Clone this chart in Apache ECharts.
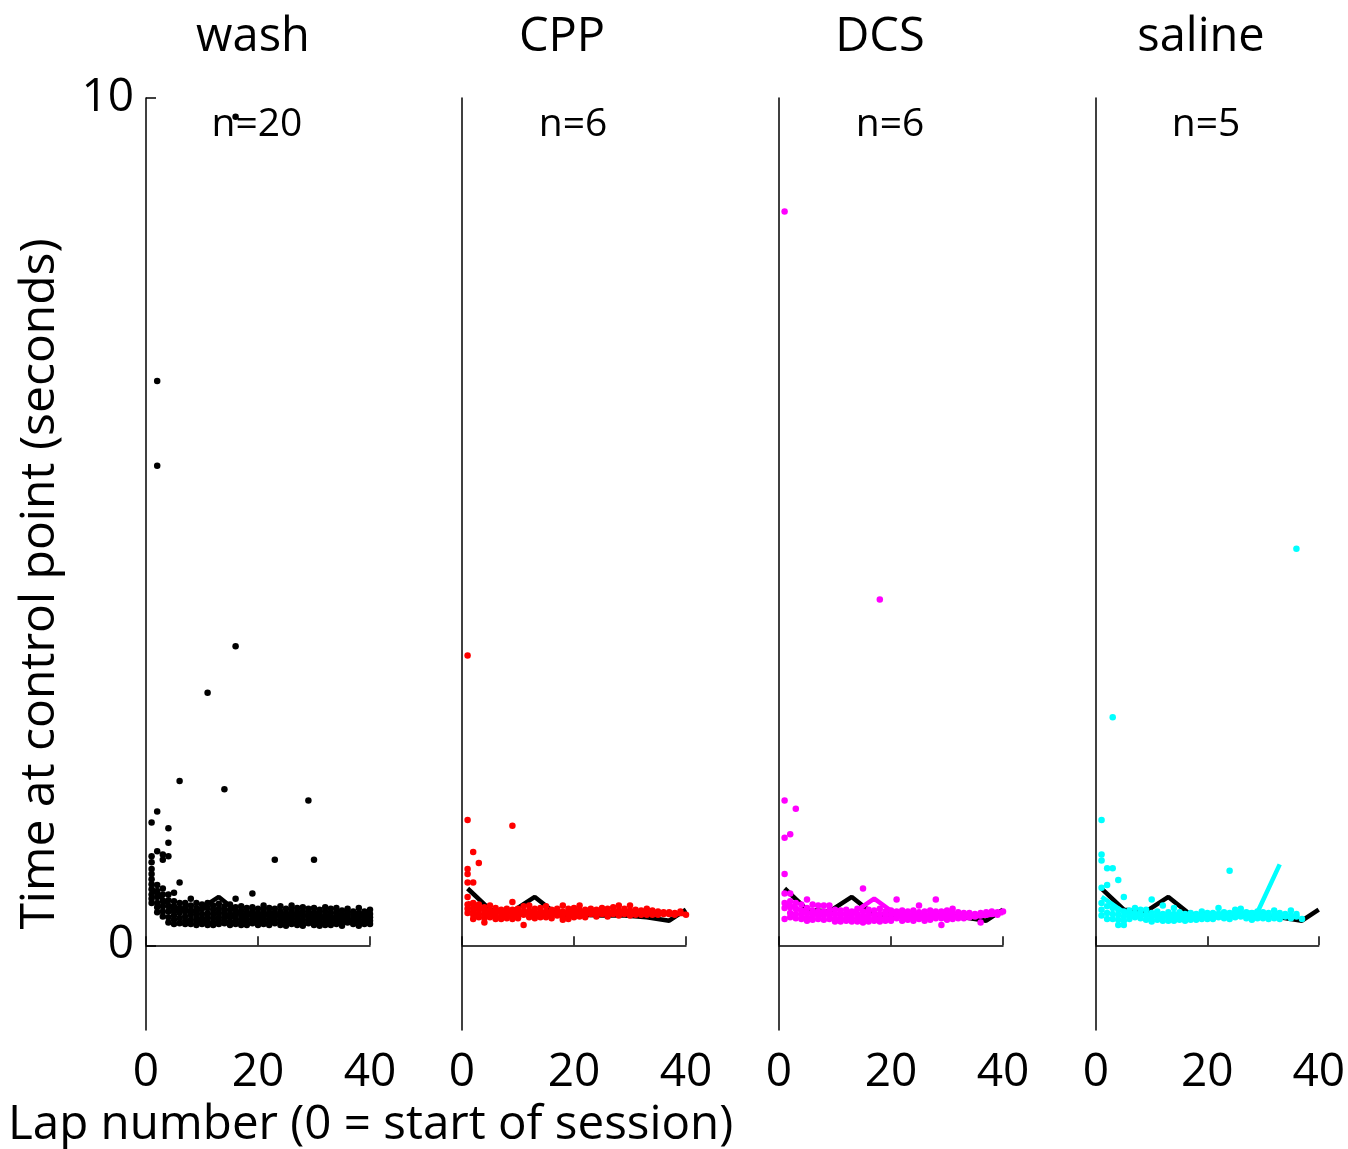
<!DOCTYPE html>
<html>
<head>
<meta charset="utf-8">
<script src="https://cdn.jsdelivr.net/npm/echarts@6/dist/echarts.min.js"></script>
<style>
  html, body { margin: 0; padding: 0; background: #fff; }
  #chart { width: 1348px; height: 1149px; }
</style>
</head>
<body>
<div id="chart"></div>
<script>
// one inner list per lap (lap 1 .. 40), values in seconds
const washVals = [
  [1.45, 1.05, 0.98, 0.9, 0.84, 0.78, 0.72, 0.66, 0.6, 0.55, 0.5],
  [6.66, 5.66, 1.58, 1.11, 0.71, 0.64, 0.57, 0.5, 0.45, 0.39],
  [1.07, 1.01, 0.67, 0.6, 0.52, 0.46, 0.4, 0.34],
  [1.38, 1.21, 1.05, 0.6, 0.53, 0.46, 0.4, 0.33, 0.27],
  [0.62, 0.52, 0.46, 0.4, 0.35, 0.3, 0.25],
  [1.94, 0.74, 0.5, 0.44, 0.38, 0.32, 0.26],
  [0.5, 0.45, 0.4, 0.34, 0.29, 0.25],
  [0.55, 0.47, 0.41, 0.36, 0.3, 0.25],
  [0.5, 0.44, 0.38, 0.33, 0.28, 0.24],
  [0.48, 0.43, 0.37, 0.32, 0.28, 0.25],
  [2.98, 0.5, 0.44, 0.38, 0.33, 0.28, 0.24],
  [0.47, 0.42, 0.37, 0.32, 0.27, 0.24],
  [0.49, 0.43, 0.38, 0.33, 0.29, 0.25],
  [1.84, 0.46, 0.41, 0.36, 0.31, 0.26],
  [0.48, 0.42, 0.37, 0.33, 0.28, 0.24],
  [9.78, 3.53, 0.55, 0.45, 0.39, 0.34, 0.29, 0.25],
  [0.46, 0.41, 0.36, 0.31, 0.27, 0.24],
  [0.44, 0.39, 0.35, 0.31, 0.27, 0.24],
  [0.61, 0.45, 0.4, 0.35, 0.3, 0.26],
  [0.43, 0.38, 0.34, 0.3, 0.27, 0.24],
  [0.47, 0.42, 0.37, 0.32, 0.28, 0.25],
  [0.44, 0.39, 0.35, 0.31, 0.27, 0.24],
  [1.01, 0.43, 0.38, 0.34, 0.3, 0.26],
  [0.46, 0.4, 0.35, 0.31, 0.27, 0.24],
  [0.43, 0.38, 0.34, 0.3, 0.26, 0.23],
  [0.47, 0.41, 0.36, 0.32, 0.28, 0.25],
  [0.44, 0.39, 0.35, 0.31, 0.27, 0.24],
  [0.45, 0.4, 0.35, 0.3, 0.26, 0.23],
  [1.71, 0.43, 0.38, 0.34, 0.3, 0.26],
  [1.01, 0.44, 0.39, 0.35, 0.31, 0.27, 0.24],
  [0.42, 0.37, 0.33, 0.29, 0.26, 0.23],
  [0.45, 0.4, 0.35, 0.31, 0.27, 0.24],
  [0.43, 0.38, 0.34, 0.3, 0.26, 0.24],
  [0.44, 0.39, 0.34, 0.3, 0.27, 0.25],
  [0.41, 0.37, 0.33, 0.29, 0.26, 0.23],
  [0.43, 0.38, 0.34, 0.3, 0.27],
  [0.4, 0.36, 0.32, 0.28, 0.25],
  [0.44, 0.38, 0.34, 0.3, 0.26, 0.23],
  [0.4, 0.36, 0.32, 0.28, 0.25],
  [0.42, 0.37, 0.33, 0.29, 0.25]
];
const cppVals = [
  [3.42, 1.48, 0.9, 0.84, 0.74, 0.57, 0.48, 0.43, 0.38],
  [1.1, 0.74, 0.5, 0.44, 0.4, 0.36, 0.31],
  [0.97, 0.48, 0.42, 0.37, 0.33],
  [0.45, 0.4, 0.36, 0.32, 0.27],
  [0.47, 0.41, 0.37, 0.33],
  [0.44, 0.39, 0.35, 0.31],
  [0.42, 0.38, 0.34, 0.31],
  [0.43, 0.39, 0.35, 0.32],
  [1.41, 0.51, 0.42, 0.38, 0.34, 0.31],
  [0.43, 0.39, 0.35, 0.32],
  [0.46, 0.4, 0.36, 0.24],
  [0.47, 0.41, 0.37, 0.33],
  [0.43, 0.39, 0.35, 0.32],
  [0.44, 0.4, 0.36, 0.33],
  [0.46, 0.4, 0.37, 0.33],
  [0.42, 0.38, 0.35, 0.32],
  [0.43, 0.39, 0.35],
  [0.47, 0.4, 0.37, 0.33, 0.3],
  [0.43, 0.39, 0.35, 0.31],
  [0.44, 0.4, 0.36, 0.33],
  [0.47, 0.41, 0.37, 0.34],
  [0.42, 0.39, 0.36, 0.33],
  [0.43, 0.4, 0.37],
  [0.42, 0.39, 0.36, 0.34],
  [0.44, 0.4, 0.37],
  [0.43, 0.39, 0.36, 0.34],
  [0.45, 0.4, 0.37],
  [0.47, 0.41, 0.38, 0.35],
  [0.43, 0.4, 0.37],
  [0.47, 0.41, 0.38, 0.35],
  [0.42, 0.39, 0.36],
  [0.41, 0.38, 0.36],
  [0.43, 0.39, 0.36],
  [0.41, 0.38, 0.36],
  [0.4, 0.38, 0.36],
  [0.39, 0.37],
  [0.39, 0.37],
  [0.38, 0.36],
  [0.4],
  [0.36]
];
const dcsVals = [
  [8.66, 1.71, 1.27, 0.84, 0.61, 0.5, 0.44, 0.31],
  [1.31, 0.61, 0.52, 0.45, 0.38, 0.33],
  [1.61, 0.5, 0.43, 0.37, 0.32],
  [0.48, 0.41, 0.36, 0.31],
  [0.54, 0.44, 0.38, 0.33, 0.29],
  [0.48, 0.41, 0.35, 0.3],
  [0.47, 0.4, 0.35, 0.31],
  [0.47, 0.4, 0.35, 0.3],
  [0.47, 0.41, 0.36, 0.31],
  [0.42, 0.37, 0.32, 0.28],
  [0.41, 0.36, 0.32, 0.28],
  [0.42, 0.37, 0.32, 0.29],
  [0.4, 0.36, 0.32, 0.28],
  [0.43, 0.37, 0.32, 0.28],
  [0.67, 0.4, 0.35, 0.31, 0.27],
  [0.42, 0.37, 0.32, 0.28],
  [0.41, 0.36, 0.32, 0.29],
  [4.08, 0.43, 0.37, 0.32, 0.28],
  [0.4, 0.36, 0.32, 0.29],
  [0.41, 0.36, 0.32, 0.29],
  [0.54, 0.4, 0.36, 0.32],
  [0.41, 0.37, 0.33, 0.29],
  [0.4, 0.36, 0.32, 0.3],
  [0.41, 0.37, 0.33, 0.29],
  [0.47, 0.39, 0.35, 0.31],
  [0.4, 0.36, 0.32, 0.29],
  [0.41, 0.37, 0.33, 0.3],
  [0.54, 0.4, 0.36, 0.32],
  [0.4, 0.36, 0.32, 0.24],
  [0.41, 0.37, 0.33, 0.3],
  [0.43, 0.38, 0.34, 0.31],
  [0.39, 0.35, 0.32],
  [0.38, 0.35, 0.32],
  [0.38, 0.35, 0.33],
  [0.37, 0.34],
  [0.38, 0.35, 0.27],
  [0.39, 0.36],
  [0.4, 0.37],
  [0.39, 0.36],
  [0.4]
];
const salineVals = [
  [1.48, 1.07, 1.0, 0.68, 0.5, 0.42, 0.35],
  [0.91, 0.71, 0.46, 0.38, 0.31],
  [2.69, 0.91, 0.44, 0.37, 0.31],
  [0.77, 0.42, 0.36, 0.3, 0.24],
  [0.57, 0.4, 0.34, 0.29, 0.24],
  [0.41, 0.36, 0.31],
  [0.44, 0.38, 0.33],
  [0.42, 0.37, 0.32],
  [0.42, 0.36, 0.3],
  [0.54, 0.38, 0.33, 0.28],
  [0.4, 0.35, 0.3],
  [0.47, 0.37, 0.33, 0.29],
  [0.39, 0.34, 0.29],
  [0.44, 0.37, 0.33, 0.29],
  [0.39, 0.34, 0.3],
  [0.37, 0.33, 0.29],
  [0.38, 0.34, 0.3],
  [0.37, 0.33, 0.3],
  [0.4, 0.35, 0.31],
  [0.38, 0.34, 0.31],
  [0.38, 0.34, 0.31],
  [0.44, 0.37, 0.33],
  [0.39, 0.35, 0.32],
  [0.88, 0.38, 0.34, 0.31],
  [0.42, 0.37, 0.33],
  [0.43, 0.38, 0.34],
  [0.39, 0.35, 0.32],
  [0.38, 0.34, 0.3],
  [0.4, 0.36, 0.32],
  [0.39, 0.35, 0.32],
  [0.38, 0.34, 0.31],
  [0.41, 0.36, 0.32],
  [0.38, 0.34, 0.31],
  [0.37, 0.34],
  [0.41, 0.35, 0.32],
  [4.68, 0.37, 0.34],
  [0.31]
];

// binned means (every 4 laps)
const meanLaps = [1, 5, 9, 13, 17, 21, 25, 29, 33, 37, 40];
const washMean = [0.67, 0.42, 0.4, 0.57, 0.36, 0.36, 0.35, 0.35, 0.33, 0.29, 0.42];
const cppMean = [0.5, 0.4, 0.39, 0.38, 0.38, 0.39, 0.39, 0.39, 0.38, 0.37, 0.37];
const dcsMean = [0.5, 0.38, 0.37, 0.37, 0.55, 0.36, 0.35, 0.34, 0.33, 0.35, 0.38];
const salineMean = [0.57, 0.39, 0.35, 0.34, 0.33, 0.37, 0.38, 0.39, 0.955];

const titles = ['wash', 'CPP', 'DCS', 'saline'];
const counts = ['n=20', 'n=6', 'n=6', 'n=5'];
const xTicks = [0, 20, 40];
const yTicks = [0, 10];

const FONT = '"Open Sans", "Noto Sans", sans-serif';
const lefts = [146, 462, 779, 1096];
const colors = ['#000000', '#ff0000', '#ff00ff', '#00ffff'];
const vals = [washVals, cppVals, dcsVals, salineVals];
const means = [washMean, cppMean, dcsMean, salineMean];

function toPoints(perLap) {
  const pts = [];
  perLap.forEach((list, i) => list.forEach(v => pts.push([i + 1, v])));
  return pts;
}
function toLine(ys) {
  return ys.map((v, i) => [meanLaps[i], v]);
}

const grid = [], xAxis = [], yAxis = [], series = [], graphic = [];

lefts.forEach((left, i) => {
  grid.push({ left: left, top: 98, width: 224, height: 932 });
  xAxis.push({
    gridIndex: i, type: 'value', min: 0, max: 40, interval: 20,
    axisLine: { lineStyle: { color: '#000', width: 1.5 } },
    axisTick: { inside: true, length: 9, lineStyle: { color: '#000', width: 1.5 } },
    axisLabel: { color: '#000', fontSize: 46, fontFamily: FONT, margin: 20, customValues: xTicks },
    splitLine: { show: false }
  });
  yAxis.push({
    gridIndex: i, type: 'value', min: -1, max: 10,
    axisLine: { show: true, lineStyle: { color: '#000', width: 1.5 } },
    axisTick: { show: i === 0, inside: true, length: 10, customValues: yTicks, lineStyle: { color: '#000', width: 1.5 } },
    axisLabel: { show: i === 0, color: '#000', fontSize: 46, fontFamily: FONT, margin: 12, customValues: yTicks },
    splitLine: { show: false }
  });
  series.push({
    type: 'line', xAxisIndex: i, yAxisIndex: i, data: toLine(washMean),
    symbol: 'none', lineStyle: { color: '#000', width: 4.5 }, z: 2, silent: true
  });
  series.push({
    type: 'scatter', xAxisIndex: i, yAxisIndex: i, data: toPoints(vals[i]),
    symbolSize: 6.5, itemStyle: { color: colors[i], opacity: 1 }, z: 3, silent: true
  });
  if (i > 0) {
    series.push({
      type: 'line', xAxisIndex: i, yAxisIndex: i, data: toLine(means[i]),
      symbol: 'none', lineStyle: { color: colors[i], width: 4.5 }, z: 4, silent: true
    });
  }
});

const titleX = [253, 562, 880, 1201];
const countX = [257, 573, 890, 1206];
titles.forEach((t, i) => {
  graphic.push({ type: 'text', x: titleX[i], y: 38, style: { text: t, font: '47px ' + FONT, fill: '#000', textAlign: 'center', textVerticalAlign: 'middle' } });
  graphic.push({ type: 'text', x: countX[i], y: 125, style: { text: counts[i], font: '39px ' + FONT, fill: '#000', textAlign: 'center', textVerticalAlign: 'middle' } });
});
graphic.push({ type: 'text', x: 40, y: 584, rotation: Math.PI / 2, style: { text: 'Time at control point (seconds)', font: '48px ' + FONT, fill: '#000', textAlign: 'center', textVerticalAlign: 'middle' } });
graphic.push({ type: 'text', x: 8, y: 1125, style: { text: 'Lap number (0 = start of session)', font: '47.5px ' + FONT, fill: '#000', textAlign: 'left', textVerticalAlign: 'middle' } });

const chart = echarts.init(document.getElementById('chart'));
chart.setOption({
  animation: false,
  backgroundColor: '#fff',
  grid: grid,
  xAxis: xAxis,
  yAxis: yAxis,
  series: series,
  graphic: graphic
});
</script>
</body>
</html>
